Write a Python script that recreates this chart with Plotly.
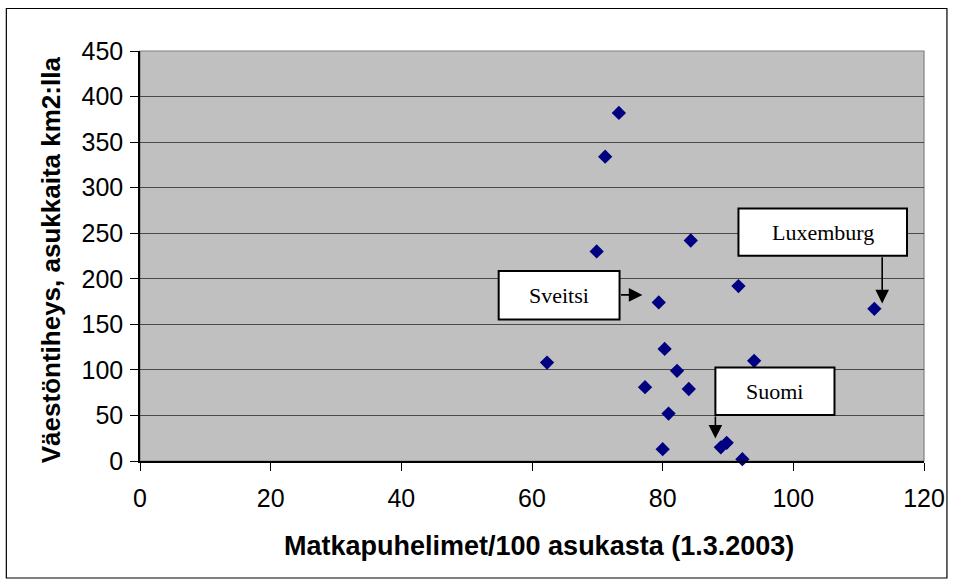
import plotly.graph_objects as go

# Data
phones_per_100 = [73.3, 71.2, 69.9, 84.3, 91.6, 79.4, 80.3, 62.3, 94.0,
                  82.2, 77.3, 84.0, 80.9, 80.0, 88.9, 89.8, 92.2, 112.4]
density_km2 = [382, 334, 230, 242, 192, 174, 123, 108, 110,
               99, 81, 79, 52, 13, 15, 20, 2, 167]

x_ticks = [0, 20, 40, 60, 80, 100, 120]
y_ticks = [0, 50, 100, 150, 200, 250, 300, 350, 400, 450]

x_title = "Matkapuhelimet/100 asukasta (1.3.2003)"
y_title = "Väestöntiheys, asukkaita km2:lla"

# Callout labels (text, box x0, x1, y0, y1, arrow tail, arrow head) in data units
callouts = [
    ("Sveitsi", 54.9, 73.4, 155.3, 208.4, (73.4, 182.3), (76.9, 182.3)),
    ("Luxemburg", 91.6, 117.4, 225.2, 277.2, (113.6, 225.2), (113.6, 172.9)),
    ("Suomi", 88.07, 106.3, 50.5, 102.6, (88.07, 50.5), (88.07, 24.6)),
]

W, H = 957, 586
ML, MR, MT, MB = 140, 31, 51, 125
PW, PH = W - ML - MR, H - MT - MB


def px(xp):
    return (xp - ML) / PW


def py(yp):
    return (H - MB - yp) / PH


fig = go.Figure()
fig.add_trace(go.Scatter(
    x=phones_per_100, y=density_km2, mode="markers",
    marker=dict(symbol="diamond", size=11, color="#000080",
                line=dict(width=0)),
    cliponaxis=False, showlegend=False, hoverinfo="x+y",
))

shapes = []
annotations = []

# outer chart border
shapes.append(dict(type="rect", xref="paper", yref="paper",
                   x0=px(6), x1=px(949), y0=py(578), y1=py(8.5),
                   line=dict(color="black", width=1.2), fillcolor="rgba(0,0,0,0)",
                   layer="below"))
# plot area border (gray)
shapes.append(dict(type="rect", xref="paper", yref="paper",
                   x0=0, x1=1, y0=0, y1=1,
                   line=dict(color="#808080", width=1.2),
                   fillcolor="rgba(0,0,0,0)", layer="below"))

for text, x0, x1, y0, y1, tail, head in callouts:
    shapes.append(dict(type="rect", xref="x", yref="y",
                       x0=x0, x1=x1, y0=y0, y1=y1,
                       line=dict(color="black", width=2), fillcolor="white",
                       layer="above"))
    annotations.append(dict(x=(x0 + x1) / 2, y=(y0 + y1) / 2, xref="x", yref="y",
                            xanchor="center", yanchor="middle",
                            text=text, showarrow=False,
                            font=dict(family="Liberation Serif, Times New Roman, serif",
                                      size=22, color="black")))
    annotations.append(dict(x=head[0], y=head[1], xref="x", yref="y",
                            ax=tail[0], ay=tail[1], axref="x", ayref="y",
                            text="", showarrow=True, arrowhead=2, arrowsize=1.7,
                            arrowwidth=1.6, arrowcolor="black", standoff=0,
                            startstandoff=0))

# axis titles
annotations.append(dict(x=px(540), y=py(546), xref="paper", yref="paper",
                        xanchor="center", yanchor="middle",
                        text="<b>" + x_title + "</b>", showarrow=False,
                        font=dict(family="Liberation Sans, Arial, sans-serif",
                                  size=27, color="black")))
annotations.append(dict(x=px(51), y=py(260), xref="paper", yref="paper",
                        xanchor="center", yanchor="middle",
                        text="<b>" + y_title + "</b>", showarrow=False, textangle=-90,
                        font=dict(family="Liberation Sans, Arial, sans-serif",
                                  size=26, color="black")))

fig.update_layout(
    width=W, height=H,
    margin=dict(l=ML, r=MR, t=MT, b=MB, pad=0),
    paper_bgcolor="white", plot_bgcolor="#C0C0C0",
    font=dict(family="Liberation Sans, Arial, sans-serif", size=25, color="black"),
    shapes=shapes, annotations=annotations,
    xaxis=dict(range=[0, 120], tickvals=x_ticks, ticks="outside", ticklen=8,
               tickcolor="black", tickwidth=1, showgrid=False, zeroline=False,
               showline=True, linecolor="black", linewidth=1.5,
               tickfont=dict(size=25), ticklabelstandoff=6),
    yaxis=dict(range=[0, 450], tickvals=y_ticks, ticks="outside", ticklen=8,
               tickcolor="black", tickwidth=1, showgrid=True, gridcolor="#4a4a4a",
               gridwidth=1, zeroline=False, showline=True, linecolor="black",
               linewidth=1.5, tickfont=dict(size=25), ticklabelstandoff=2),
)

fig.write_html("out.html", post_script="document.body.style.margin='0';",
               config={"displayModeBar": False})
